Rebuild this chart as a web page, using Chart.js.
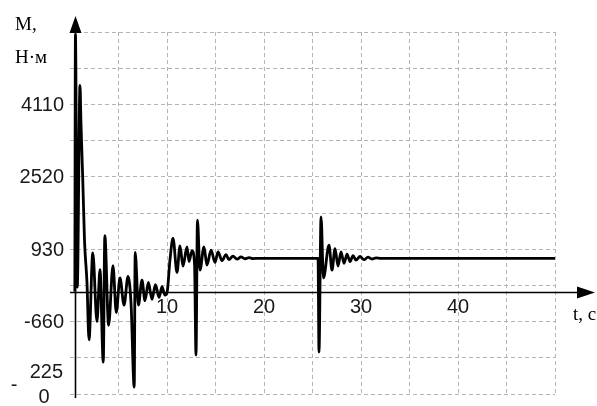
<!DOCTYPE html>
<html>
<head>
<meta charset="utf-8">
<script src="https://cdn.jsdelivr.net/npm/chart.js@4.4.1/dist/chart.umd.min.js"></script>
<style>
  html, body { margin: 0; padding: 0; background: #fff; }
  canvas { display: block; }
</style>
</head>
<body>
<canvas id="chart" width="597" height="406"></canvas>
<script>
// t, c  — время
const times = [
  0.5, 0.56, 0.75, 1.03, 1.13, 1.31, 1.5, 1.75, 1.96, 2.35, 2.78, 3.09, 3.43, 3.59,
  3.98, 4.43, 4.77, 5.15, 5.57, 5.98, 6.29, 6.62, 6.72, 7.05, 7.42, 7.73, 8.08, 8.45,
  8.81, 9.18, 9.48, 9.79, 10.0,
  10.31, 10.62, 11.03, 11.34, 11.65, 12.06, 12.27, 12.58, 12.84, 12.99, 13.14, 13.4,
  13.81, 14.12, 14.54, 14.95, 15.26, 15.67, 16.08, 16.39, 16.8, 17.22, 17.63, 18.04,
  18.45, 18.87, 19.38,
  25.57, 25.67, 25.88, 26.13, 26.7, 27.01, 27.32, 27.63, 27.94, 28.25, 28.56, 28.87,
  29.18, 29.48, 29.9, 30.31, 30.72, 31.13, 31.55, 32.06, 50,
];
// M, Н·м — момент
const torque = [
  0, 5650, 100, 4530, 3700, 2500, 1100, 200, -1060, 850, -660, 480, -1550, 1230,
  -740, 570, -460, 300, -300, 330, -250, -2100, 860, -300, 250, -200, 200, -170,
  150, -130, 110, -80, -30,
  700, 1175, 420, 1000, 560, 980, 660, 900, 600, -1393, 1570, 470,
  980, 580, 910, 640, 870, 680, 810, 700, 780, 710, 760, 720,
  745, 725, 730,
  730, -1330, 1640, 300, 1020, 470, 940, 560, 870, 620, 820, 660,
  790, 690, 770, 700, 755, 715, 740, 730, 730,
];

const xGrid = [5, 10, 15, 20, 25, 30, 35, 40, 45, 50];
const xLabels = [10, 20, 30, 40];
const yGrid = [-2250, -1455, -660, 135, 930, 1725, 2520, 3315, 4110, 4905, 5700];
const yLabels = [4110, 2520, 930, -660];
const yLowest = -2250;   // подпись разорвана на "225" / "0" как в оригинале
const axisT = 0.5;       // где проходит ось M

const TICK_FONT = '20px "Liberation Sans", Arial, sans-serif';
const TITLE_FONT = '19px "Liberation Serif", "Times New Roman", serif';

const axesPlugin = {
  id: 'axesPlugin',
  afterDraw(chart) {
    const { ctx, scales: { x, y } } = chart;
    const x0 = Math.round(x.getPixelForValue(axisT)) + 0.5;
    const y0 = Math.round(y.getPixelForValue(0)) + 0.5;
    const top = y.getPixelForValue(y.max);
    const bottom = y.getPixelForValue(y.min);

    ctx.save();
    ctx.strokeStyle = '#000';
    ctx.fillStyle = '#000';
    ctx.lineWidth = 1.6;

    // ось t
    ctx.beginPath();
    ctx.moveTo(x.left, y0);
    ctx.lineTo(577, y0);
    ctx.stroke();
    ctx.beginPath();
    ctx.moveTo(595, y0);
    ctx.lineTo(577, y0 - 6);
    ctx.lineTo(577, y0 + 6);
    ctx.closePath();
    ctx.fill();

    // ось M
    ctx.beginPath();
    ctx.moveTo(x0, bottom + 4);
    ctx.lineTo(x0, top);
    ctx.stroke();
    ctx.beginPath();
    ctx.moveTo(x0, top - 16);
    ctx.lineTo(x0 - 6, top + 1);
    ctx.lineTo(x0 + 6, top + 1);
    ctx.closePath();
    ctx.fill();

    // подписи делений
    ctx.fillStyle = '#1a1a1a';
    ctx.font = TICK_FONT;
    ctx.textAlign = 'right';
    ctx.textBaseline = 'middle';
    yLabels.forEach((v) => ctx.fillText(String(v), 64, y.getPixelForValue(v) + 1));
    const s = String(yLowest);
    const yl = y.getPixelForValue(yLowest);
    ctx.fillText(s.slice(1, 4), 63, yl - 22);
    ctx.textAlign = 'center';
    ctx.fillText(s.slice(4), 44, yl + 3);
    ctx.fillText(s.slice(0, 1), 14, yl - 9);

    ctx.textBaseline = 'top';
    xLabels.forEach((v) => ctx.fillText(String(v), x.getPixelForValue(v), y0 + 5));

    // названия осей
    ctx.fillStyle = '#000';
    ctx.font = TITLE_FONT;
    ctx.textAlign = 'left';
    ctx.textBaseline = 'middle';
    ctx.fillText('M,', 15, 25);
    ctx.fillText('Н·м', 15, 58);
    ctx.fillText('t, c', 573, 315);
    ctx.restore();
  },
};

new Chart(document.getElementById('chart'), {
  type: 'line',
  data: {
    datasets: [{
      data: times.map((t, i) => ({ x: t, y: torque[i] })),
      borderColor: '#000',
      borderWidth: 2.8,
      pointRadius: 0,
      cubicInterpolationMode: 'monotone',
      fill: false,
    }],
  },
  options: {
    responsive: false,
    animation: false,
    layout: { padding: { left: 70, top: 32, right: 42, bottom: 12 } },
    plugins: { legend: { display: false }, tooltip: { enabled: false } },
    scales: {
      x: {
        type: 'linear',
        min: 0,
        max: 50,
        afterBuildTicks: (s) => { s.ticks = xGrid.map((v) => ({ value: v })); },
        afterFit: (s) => { s.height = 0; },
        ticks: { display: false },
        grid: { color: '#b4b4b4', lineWidth: 1, drawTicks: false },
        border: { display: false, dash: [4, 3] },
      },
      y: {
        type: 'linear',
        min: -2250,
        max: 5700,
        afterBuildTicks: (s) => { s.ticks = yGrid.map((v) => ({ value: v })); },
        afterFit: (s) => { s.width = 0; },
        ticks: { display: false },
        grid: { color: '#b4b4b4', lineWidth: 1, drawTicks: false },
        border: { display: false, dash: [4, 3] },
      },
    },
  },
  plugins: [axesPlugin],
});
</script>
</body>
</html>
